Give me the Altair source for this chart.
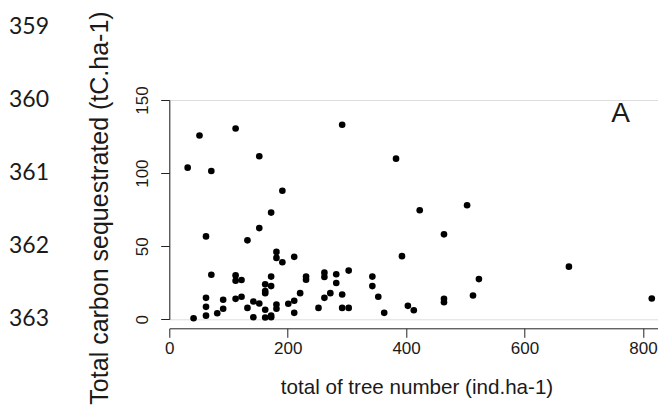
import altair as alt
import pandas as pd

# ---------------- data ----------------
tree_number = [31, 51, 112, 152, 71, 292, 383, 191, 172, 152, 62, 132, 181, 181, 191, 211,
               71, 112, 112, 122, 172, 162, 172, 162, 162, 231, 231, 262, 262, 282, 282, 303,
               343, 343, 353, 363, 62, 62, 62, 41, 81, 91, 91, 112, 122, 132, 142, 142, 152,
               162, 162, 172, 172, 181, 181, 201, 211, 211, 221, 252, 262, 272, 292, 292, 303,
               393, 423, 503, 464, 523, 513, 464, 464, 403, 413, 675, 815]
carbon = [103.7, 125.7, 130.5, 111.5, 101.4, 133.1, 109.9, 87.9, 73.0, 62.4, 56.7, 54.0,
          46.1, 42.0, 39.0, 42.7, 30.5, 30.0, 26.4, 26.9, 29.2, 23.9, 22.7, 19.3, 17.9, 29.2,
          27.1, 31.9, 28.9, 30.8, 24.8, 33.3, 29.2, 22.7, 15.4, 4.4, 14.7, 8.5, 2.5, 0.7, 4.1,
          13.4, 7.2, 14.0, 15.4, 7.8, 12.2, 1.4, 10.8, 6.5, 1.2, 2.5, 1.4, 10.1, 7.2, 10.6,
          12.7, 4.4, 17.9, 7.8, 14.7, 17.9, 17.0, 7.8, 7.8, 43.2, 74.6, 78.0, 58.1, 27.5,
          16.3, 14.0, 11.7, 9.2, 6.2, 36.0, 14.2]
x_ticks = [0, 200, 400, 600, 800]
y_ticks = [0, 50, 100, 150]
x_title = "total of tree number (ind.ha-1)"
y_title = "Total carbon sequestrated (tC.ha-1)"
panel_label = "A"
line_numbers = ["359", "360", "361", "362", "363"]

df = pd.DataFrame({"trees": tree_number, "carbon": carbon})

# ---------------- layout ----------------
W, H = 488.7, 219.3
PAD_L, PAD_T = 161.3, 92
X0, Y0 = 8 + PAD_L, 8 + PAD_T  # page coords of plot origin
FONT = "Liberation Sans"
INK = "#1a1a1a"

x_scale = alt.Scale(domain=[0, 825.5], nice=False, zero=False)
y_scale = alt.Scale(domain=[0, 150], nice=False, zero=False)

points = alt.Chart(df).mark_circle(size=44, color="black", opacity=1).encode(
    x=alt.X("trees:Q", scale=x_scale,
            axis=alt.Axis(values=x_ticks, title=None, grid=False, offset=9, tickSize=9,
                          labelPadding=3, labelFont=FONT, labelFontSize=17,
                          labelColor=INK, domainColor="#222", tickColor="#222",
                          labelFlush=False)),
    y=alt.Y("carbon:Q", scale=y_scale,
            axis=alt.Axis(values=y_ticks, title=None, grid=False, offset=0, tickSize=8.6,
                          labelAngle=-90, labelAlign="center", labelBaseline="bottom",
                          labelPadding=9, labelFont=FONT, labelFontSize=17,
                          labelColor=INK, domainColor="#222", tickColor="#222",
                          labelFlush=False)),
)

one = pd.DataFrame({"k": [0]})


def text_at(txt, px, py, size, font=FONT, angle=0):
    return alt.Chart(one).mark_text(
        text=txt, font=font, fontSize=size, color=INK, angle=angle,
        align="center", baseline="middle"
    ).encode(x=alt.value(px - X0), y=alt.value(py - Y0))


layers = [points,
          text_at(x_title, 417, 388, 20.6),
          text_at(y_title, 100, 208, 25, angle=270),
          text_at(panel_label, 620.5, 114, 28)]

line_number_y = [27, 100, 173, 246, 319]
for lab, ly in zip(line_numbers, line_number_y):
    layers.append(text_at(lab, 29, ly, 23, font="Lato"))

chart = alt.layer(*layers).properties(
    width=W, height=H,
    padding={"left": PAD_L, "top": PAD_T, "right": 650 - PAD_L - W, "bottom": 400 - PAD_T - H},
    autosize=alt.AutoSizeParams(type="none"),
).configure_view(stroke=None).configure(background="white")

chart.save("out.html", embed_options={"renderer": "svg", "actions": False})
